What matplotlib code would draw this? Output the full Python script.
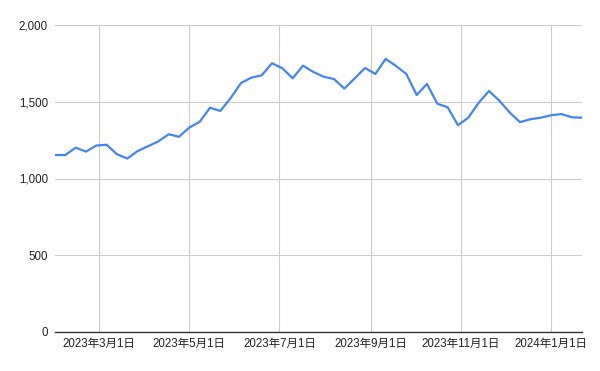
import numpy as np
import pandas as pd
import matplotlib
matplotlib.use("Agg")
import matplotlib.pyplot as plt
import matplotlib.dates as mdates
from matplotlib.ticker import FuncFormatter, MultipleLocator

# weekly series, starting 2023-01-30
start_date = "2023-01-30"
values = [1153, 1153, 1201, 1175, 1215, 1220, 1158, 1130, 1179, 1210,
          1242, 1288, 1272, 1332, 1369, 1461, 1440, 1524, 1622, 1657,
          1672, 1751, 1718, 1653, 1735, 1694, 1663, 1648, 1586, 1652,
          1720, 1681, 1779, 1733, 1681, 1544, 1616, 1487, 1464, 1347,
          1397, 1493, 1570, 1507, 1430, 1367, 1386, 1396, 1412, 1420,
          1399, 1396]
dates = pd.date_range(start_date, periods=len(values), freq="7D")

plt.rcParams['font.family'] = ['Liberation Sans', 'Noto Sans CJK JP']


def jp_date(v, pos):
    d = mdates.num2date(v)
    return f"{d.year}年{d.month}月{d.day}日"


fig = plt.figure(figsize=(6, 3.71), dpi=100)
ax = fig.add_axes([55 / 600, 39 / 371, 527 / 600, 307 / 371])

ax.plot(dates, values, color="#4285F4", linewidth=1.6, zorder=3)

ax.set_xlim(dates[0], dates[-1])
ax.set_ylim(0, 2000)
ax.yaxis.set_major_locator(MultipleLocator(500))
ax.yaxis.set_major_formatter(FuncFormatter(lambda v, p: f"{int(v):,}"))
ax.xaxis.set_major_locator(mdates.MonthLocator(bymonth=[1, 3, 5, 7, 9, 11]))
ax.xaxis.set_major_formatter(FuncFormatter(jp_date))

ax.grid(True, color="#cccccc", linewidth=0.8)
ax.set_axisbelow(True)
for s in ["top", "right", "left"]:
    ax.spines[s].set_visible(False)
ax.spines["bottom"].set_color("#333333")
ax.spines["bottom"].set_linewidth(1.0)
ax.spines["bottom"].set_zorder(4)
ax.tick_params(length=0, labelsize=8.3, colors="#222222")
ax.tick_params(axis="y", pad=5)
ax.tick_params(axis="x", pad=4)

fig.savefig("out.png", dpi=100)
